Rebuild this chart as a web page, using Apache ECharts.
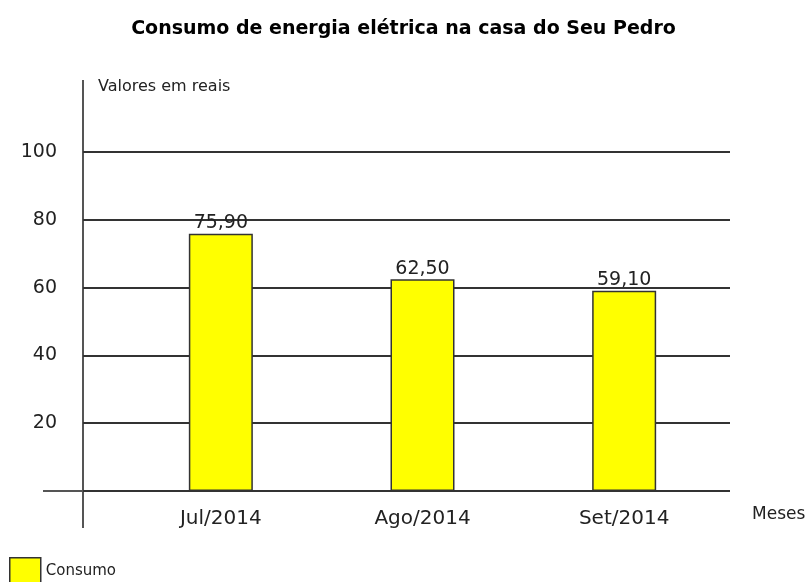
<!doctype html>
<html>
    <head>
        <meta charset="utf-8">
        <title>Consumo de energia elétrica</title>
        <style>
            html, body { margin: 0; padding: 0; background: #fff; }
            #main { width: 807px; height: 582px; }
        </style>
    </head>
    <body>
        <div id="main"></div>
        <script src="https://cdn.jsdelivr.net/npm/echarts@6/dist/echarts.min.js"></script>
        <script>
            var months = ['Jul/2014', 'Ago/2014', 'Set/2014'];
            var consumo = [75.90, 62.50, 59.10];
            var yTicks = { min: 0, max: 100, interval: 20 };

            var comic = '"Comic Sans MS", "DejaVu Sans", sans-serif';
            var plain = '"DejaVu Sans", Verdana, sans-serif';

            var chart = echarts.init(document.getElementById('main'));

            chart.setOption({
                animation: false,
                backgroundColor: '#fff',
                title: {
                    text: 'Consumo de energia elétrica na casa do Seu Pedro',
                    left: 'center',
                    top: 15,
                    textStyle: { fontFamily: comic, fontSize: 19, fontWeight: 'bold', color: '#000' }
                },
                legend: {
                    left: 9,
                    top: 557,
                    padding: 0,
                    itemWidth: 31,
                    itemHeight: 26,
                    itemGap: 8,
                    icon: 'rect',
                    itemStyle: { color: '#ffff00', borderColor: '#333', borderWidth: 1.5 },
                    textStyle: { fontFamily: comic, fontSize: 15, color: '#222', padding: [14, 0, 0, 0] },
                    data: ['Consumo']
                },
                grid: [
                    // gridlines + tick labels
                    { left: 83, right: 77, top: 152, bottom: 91 },
                    // bars
                    { left: 120, right: 82, top: 152, bottom: 91 }
                ],
                xAxis: [
                    { type: 'category', gridIndex: 0, data: months, show: false },
                    {
                        type: 'category', gridIndex: 1, data: months,
                        axisLine: { show: false },
                        axisTick: { show: false },
                        axisLabel: { margin: 18, fontFamily: comic, fontSize: 20, color: '#222' }
                    }
                ],
                yAxis: [
                    {
                        type: 'value', gridIndex: 0,
                        min: yTicks.min, max: yTicks.max, interval: yTicks.interval,
                        axisLine: { show: false },
                        axisTick: { show: false },
                        axisLabel: { showMinLabel: false, margin: 26, fontFamily: plain, fontSize: 19, color: '#222' },
                        splitLine: { lineStyle: { color: '#333', width: 1.8 } }
                    },
                    {
                        type: 'value', gridIndex: 1,
                        min: yTicks.min, max: yTicks.max, interval: yTicks.interval,
                        show: false
                    }
                ],
                series: [
                    {
                        name: 'Consumo',
                        type: 'bar',
                        xAxisIndex: 1,
                        yAxisIndex: 1,
                        barWidth: 64,
                        data: consumo,
                        itemStyle: { color: '#ffff00', borderColor: '#333', borderWidth: 1.5 },
                        label: {
                            show: true,
                            position: 'top',
                            distance: 1,
                            fontFamily: plain,
                            fontSize: 19,
                            color: '#222',
                            formatter: function (p) {
                                return p.value.toFixed(2).replace('.', ',');
                            }
                        }
                    }
                ],
                graphic: [
                    {
                        type: 'line',
                        shape: { x1: 83, y1: 80, x2: 83, y2: 528 },
                        style: { stroke: '#555', lineWidth: 2 }
                    },
                    {
                        type: 'line',
                        shape: { x1: 43, y1: 491, x2: 730, y2: 491 },
                        style: { stroke: '#555', lineWidth: 2 }
                    },
                    {
                        type: 'text',
                        left: 98,
                        top: 79,
                        style: { text: 'Valores em reais', font: '16px ' + comic, fill: '#222' }
                    },
                    {
                        type: 'text',
                        left: 752,
                        top: 506,
                        style: { text: 'Meses', font: '17px ' + comic, fill: '#222' }
                    }
                ]
            });

            window.addEventListener('resize', function () {
                chart.resize();
            });
        </script>
    </body>
</html>
